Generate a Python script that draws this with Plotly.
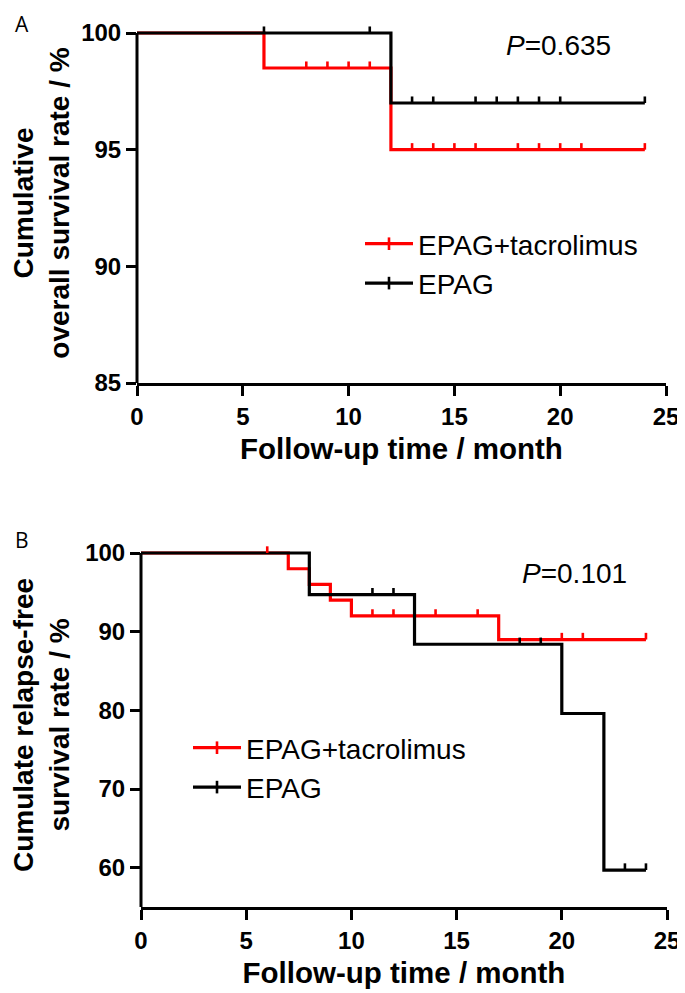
import plotly.graph_objects as go

# ---------------- data ----------------
# Panel A: cumulative overall survival (%)
a_tac_t = [0, 6, 12, 24]
a_tac_s = [100, 98.5, 95.0, 95.0]
a_tac_cens = [8, 9, 10, 11, 13, 14, 15, 16, 18, 19, 20, 21, 24]
a_epag_t = [0, 12, 24]
a_epag_s = [100, 97.0, 97.0]
a_epag_cens = [6, 11, 13, 14, 16, 17, 18, 19, 20, 24]

# Panel B: cumulative relapse-free survival (%)
b_tac_t = [0, 7, 8, 9, 10, 17, 24]
b_tac_s = [100, 98.0, 96.0, 94.0, 92.0, 89.0, 89.0]
b_tac_cens = [6, 11, 12, 14, 16, 20, 21, 24]
b_epag_t = [0, 8, 13, 20, 22, 24]
b_epag_s = [100, 94.7, 88.4, 79.6, 59.7, 59.7]
b_epag_cens = [11, 12, 18, 19, 23, 24]

series_names = ["EPAG+tacrolimus", "EPAG"]
p_values = ["0.635", "0.101"]
x_ticks = [0, 5, 10, 15, 20, 25]
a_y_ticks = [85, 90, 95, 100]
b_y_ticks = [60, 70, 80, 90, 100]
a_y_axis = [85, 100]   # visible extent of y axis, panel A
b_y_axis = [55, 100]   # visible extent of y axis, panel B

RED = "#ff0000"
BLACK = "#000000"
FONT = "Liberation Sans"

# page has an 8px body margin; figure drawn at (8, 8)
OFF = 8
W, H = 685 - OFF, 993 - OFF
HEAD = 10  # px of head-room above the 100% line so the top curve is not clipped


def px(x):
    return (x - OFF) / W


def py(y):
    return 1 - (y - OFF) / H


def surv_at(t, times, surv):
    val = surv[0]
    for ti, si in zip(times, surv):
        if ti <= t:
            val = si
    return val


fig = go.Figure()


def add_panel(xa, ya, legend, groups, tick_h):
    for name, color, times, surv, cens in groups:
        fig.add_trace(go.Scatter(
            x=times, y=surv, mode="lines", line=dict(color=color, width=3.2, shape="hv"),
            xaxis=xa, yaxis=ya, showlegend=False, cliponaxis=False, hoverinfo="skip"))
    for name, color, times, surv, cens in groups:
        fig.add_trace(go.Scatter(
            x=cens, y=[surv_at(c, times, surv) for c in cens], mode="markers",
            marker=dict(size=0, opacity=0, color=color),
            error_y=dict(type="data", symmetric=False, array=[tick_h] * len(cens),
                         arrayminus=[0] * len(cens), width=0, thickness=2.6, color=color),
            xaxis=xa, yaxis=ya, showlegend=False, cliponaxis=False, hoverinfo="skip"))
    for name, color, times, surv, cens in groups:
        fig.add_trace(go.Scatter(
            x=[None], y=[None], mode="lines+markers", name=name,
            line=dict(color=color, width=3.2),
            marker=dict(symbol="line-ns", size=9, color=color,
                        line=dict(width=2.6, color=color)),
            xaxis=xa, yaxis=ya, legend=legend, legendgroup=legend + name))


add_panel("x", "y", "legend", [
    (series_names[0], RED, a_tac_t, a_tac_s, a_tac_cens),
    (series_names[1], BLACK, a_epag_t, a_epag_s, a_epag_cens),
], 0.28)
add_panel("x2", "y2", "legend2", [
    (series_names[0], RED, b_tac_t, b_tac_s, b_tac_cens),
    (series_names[1], BLACK, b_epag_t, b_epag_s, b_epag_cens),
], 0.85)

axis_common = dict(
    linecolor="black", linewidth=3, showgrid=False, zeroline=False,
    ticks="outside", ticklen=10, tickwidth=3, tickcolor="black",
    tickfont=dict(family=FONT, size=24, color="black", weight="bold"),
    automargin=False,
)
xtitle_font = dict(family=FONT, size=29.5, color="black", weight="bold")
ytitle_font = dict(family=FONT, size=28, color="black", weight="bold")

# panel pixel boxes (top of the 100% line, bottom axis)
a_top, a_bot = 33, 383
b_top, b_bot = 553, 907
a_ext = HEAD * (a_y_axis[1] - a_y_axis[0]) / (a_bot - a_top)
b_ext = HEAD * (b_y_axis[1] - b_y_axis[0]) / (b_bot - b_top)

fig.update_layout(
    width=W, height=H,
    margin=dict(l=0, r=0, t=0, b=0),
    paper_bgcolor="white", plot_bgcolor="white",
    xaxis=dict(domain=[px(137), px(666)], range=[0, 25], tickvals=x_ticks, anchor="y",
               showline=True,
               title=dict(text="Follow-up time / month", font=xtitle_font, standoff=10),
               **axis_common),
    yaxis=dict(domain=[py(a_bot), py(a_top - HEAD)], range=[a_y_axis[0], a_y_axis[1] + a_ext],
               tickvals=a_y_ticks, anchor="x", showline=False,
               title=dict(text="Cumulative<br>overall survival rate / %", font=ytitle_font, standoff=12),
               **axis_common),
    xaxis2=dict(domain=[px(141), px(667)], range=[0, 25], tickvals=x_ticks, anchor="y2",
                showline=True,
                title=dict(text="Follow-up time / month", font=xtitle_font, standoff=10),
                **axis_common),
    yaxis2=dict(domain=[py(b_bot), py(b_top - HEAD)], range=[b_y_axis[0], b_y_axis[1] + b_ext],
                tickvals=b_y_ticks, anchor="x2", showline=False,
                title=dict(text="Cumulate relapse-free<br>survival rate / %", font=ytitle_font, standoff=12),
                **axis_common),
    legend=dict(x=px(360), y=py(219), xanchor="left", yanchor="top",
                font=dict(family=FONT, size=28, color="black"), bgcolor="rgba(0,0,0,0)",
                traceorder="grouped", tracegroupgap=0, itemwidth=48),
    legend2=dict(x=px(188), y=py(723), xanchor="left", yanchor="top",
                 font=dict(family=FONT, size=28, color="black"), bgcolor="rgba(0,0,0,0)",
                 traceorder="grouped", tracegroupgap=0, itemwidth=48),
    showlegend=True,
)

# y axis lines, ending exactly at the 100% tick
fig.add_shape(type="line", xref="x domain", yref="y", x0=0, x1=0,
              y0=a_y_axis[0], y1=a_y_axis[1], line=dict(color="black", width=3), layer="above")
fig.add_shape(type="line", xref="x2 domain", yref="y2", x0=0, x1=0,
              y0=b_y_axis[0], y1=b_y_axis[1], line=dict(color="black", width=3), layer="above")

fig.add_annotation(text="<i>P</i>=" + p_values[0], x=px(558), y=py(46), xref="paper", yref="paper",
                   xanchor="center", yanchor="middle", showarrow=False,
                   font=dict(family=FONT, size=28, color="black"))
fig.add_annotation(text="<i>P</i>=" + p_values[1], x=px(574), y=py(573), xref="paper", yref="paper",
                   xanchor="center", yanchor="middle", showarrow=False,
                   font=dict(family=FONT, size=28, color="black"))
fig.add_annotation(text="A", x=px(22), y=py(24), xref="paper", yref="paper",
                   xanchor="center", yanchor="middle", showarrow=False,
                   font=dict(family="Open Sans", size=21, color="black"))
fig.add_annotation(text="B", x=px(22), y=py(540), xref="paper", yref="paper",
                   xanchor="center", yanchor="middle", showarrow=False,
                   font=dict(family="Open Sans", size=21, color="black"))

fig.write_html("out.html")
